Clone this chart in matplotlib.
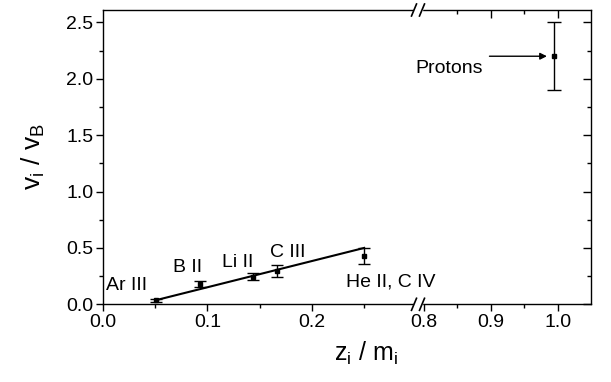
import matplotlib
matplotlib.use("Agg")
import matplotlib.pyplot as plt
from matplotlib.ticker import FixedLocator, FormatStrFormatter

plt.rcParams['font.family'] = ['Liberation Sans', 'DejaVu Sans']
plt.rcParams['mathtext.fontset'] = 'custom'
plt.rcParams['mathtext.rm'] = 'Liberation Sans'
plt.rcParams['mathtext.it'] = 'Liberation Sans'

# Data
ion_labels = ["Ar III", "B II", "Li II", "C III", "He II, C IV"]
ion_x = [0.051, 0.093, 0.144, 0.167, 0.250]
ion_y = [0.035, 0.18, 0.245, 0.295, 0.43]
ion_err = [0.015, 0.03, 0.03, 0.05, 0.07]
label_x = [0.023, 0.081, 0.129, 0.177, 0.275]
label_y = [0.127, 0.289, 0.333, 0.422, 0.156]

fit_x = [0.05, 0.25]
fit_y = [0.035, 0.50]

proton_x = [0.994]
proton_y = [2.2]
proton_err = [0.3]

y_major = [0.0, 0.5, 1.0, 1.5, 2.0, 2.5]
y_minor = [0.25, 0.75, 1.25, 1.75, 2.25]

W, H = 611, 382
fig = plt.figure(figsize=(W / 100, H / 100), dpi=100)

x0, xb, x1 = 103, 418, 591
ytop, ybot = 10, 304.3
b = (H - ybot) / H
h = (ybot - ytop) / H
axL = fig.add_axes([x0 / W, b, (xb - x0) / W, h])
axR = fig.add_axes([xb / W, b, (x1 - xb) / W, h], sharey=axL)
axR.patch.set_visible(False)

for ax in (axL, axR):
    for s in ax.spines.values():
        s.set_linewidth(1.0)
        s.set_color('black')

axL.set_xlim(0, 0.3015)
axR.set_xlim(0.791, 1.05)
axL.set_ylim(0, 2.61)

axL.spines['right'].set_visible(False)
axR.spines['left'].set_visible(False)

# Left axis ticks
axL.xaxis.set_major_locator(FixedLocator([0.0, 0.1, 0.2]))
axL.xaxis.set_minor_locator(FixedLocator([0.05, 0.15, 0.25]))
axL.xaxis.set_major_formatter(FormatStrFormatter('%.1f'))
axL.yaxis.set_major_locator(FixedLocator(y_major))
axL.yaxis.set_minor_locator(FixedLocator(y_minor))
axL.yaxis.set_major_formatter(FormatStrFormatter('%.1f'))
axL.tick_params(axis='both', which='major', direction='out', length=5, width=1,
                labelsize=14, top=False, right=False, pad=2)
axL.tick_params(axis='both', which='minor', direction='out', length=3, width=1,
                top=False, right=False)

# Right axis ticks
axR.xaxis.set_major_locator(FixedLocator([0.8, 0.9, 1.0]))
axR.xaxis.set_minor_locator(FixedLocator([0.85, 0.95]))
axR.xaxis.set_major_formatter(FormatStrFormatter('%.1f'))
axR.tick_params(axis='x', which='major', direction='out', length=5, width=1, labelsize=14, pad=2)
axR.tick_params(axis='x', which='minor', direction='out', length=3, width=1)
axR.tick_params(axis='y', which='both', left=False, labelleft=False)

# Inward ticks on top and right of right panel
axR2 = axR.twiny()
axR2.patch.set_visible(False)
axR2.set_xlim(axR.get_xlim())
axR2.xaxis.set_major_locator(FixedLocator([0.9, 1.0]))
axR2.xaxis.set_minor_locator(FixedLocator([0.85, 0.95]))
axR2.tick_params(axis='x', which='major', direction='in', length=6, width=1, labeltop=False)
axR2.tick_params(axis='x', which='minor', direction='in', length=3, width=1)
for s in axR2.spines.values():
    s.set_visible(False)
axR.tick_params(axis='y', which='major', right=True, direction='in', length=6, width=1, labelright=False)
axR.tick_params(axis='y', which='minor', right=True, direction='in', length=3, width=1)

# Data drawing
axL.plot(fit_x, fit_y, color='black', lw=1.5, zorder=2)
axL.errorbar(ion_x, ion_y, yerr=ion_err, fmt='s', color='black', ms=3,
             elinewidth=1, capsize=4, capthick=1, zorder=3)
for lab, lx, ly in zip(ion_labels, label_x, label_y):
    axL.text(lx, ly, lab, ha='center', va='baseline', fontsize=14, clip_on=False)

axR.errorbar(proton_x, proton_y, yerr=proton_err, fmt='s', color='black', ms=3,
             elinewidth=1, capsize=5, capthick=1, zorder=3)
axR.annotate("", xy=(0.984, 2.2), xytext=(0.898, 2.2),
             arrowprops=dict(arrowstyle='-|>', color='black', lw=1, mutation_scale=10,
                             shrinkA=0, shrinkB=0))
axR.text(0.888, 2.053, "Protons", ha='right', va='baseline', fontsize=14)

# Break marks
for yy in (ytop, ybot):
    yf = (H - yy) / H
    gx = xb / W
    fig.patches.append(plt.Rectangle((gx - 4 / W, yf - 1.5 / H), 8 / W, 3 / H,
                                     transform=fig.transFigure, color='white', zorder=10))
    for dx in (-4, 4):
        cx = (xb + dx) / W
        fig.lines.append(plt.Line2D([cx - 2.5 / W, cx + 2.5 / W], [yf - 6 / H, yf + 6 / H],
                                    transform=fig.transFigure, color='black', lw=1.2, zorder=11))

# Axis labels
fig.text(366 / W, 1 - 353 / H, r'$\mathregular{z_i\ /\ m_i}$', ha='center', va='center', fontsize=18)
fig.text(33 / W, 1 - 157 / H, r'$\mathregular{v_i\ /\ v_B}$', ha='center', va='center',
         fontsize=19, rotation=90)

fig.savefig("out.png", dpi=100)
